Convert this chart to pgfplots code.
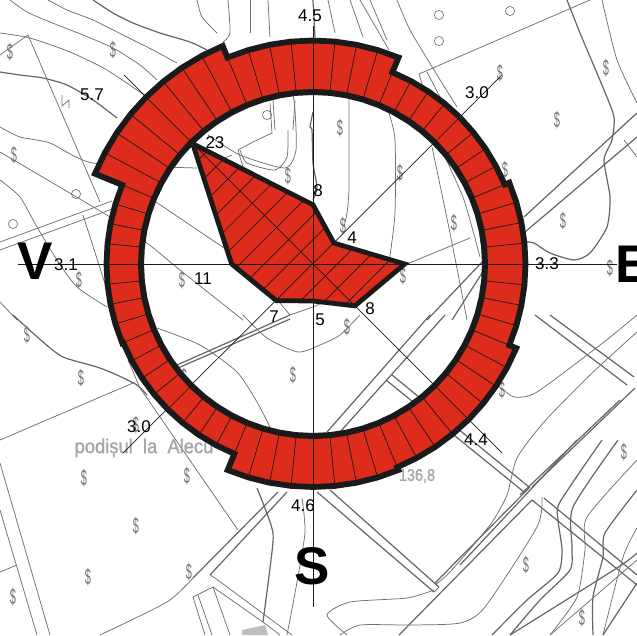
\documentclass[border=0pt]{standalone}
\usepackage{fontspec}
\setmainfont{Liberation Sans}
\newfontfamily\grayfont[FakeBold=1.2]{Liberation Sans}
\usepackage{pgfplots}
\usepackage{pgfplotstable}
\pgfplotsset{compat=1.18}
\definecolor{rosered}{HTML}{DD2C1C}
\definecolor{rosek}{HTML}{1A1A1A}
\definecolor{mapg}{HTML}{707070}
\pgfplotsset{base/.style={scale only axis,width=637pt,height=635pt,hide axis,clip=true,at={(0,0)},anchor=south west}}
\newcommand\ms[1]{\addplot[mapg,line width=0.75pt] coordinates {#1};}
\newcommand\ml[1]{\addplot[mapg,line width=0.75pt,smooth,tension=0.4] coordinates {#1};}
\newcommand\mk[1]{\addplot[mapg!90!black,line width=1.2pt,smooth,tension=0.4] coordinates {#1};}
\newcommand\spokes[2]{\pgfplotsinvokeforeach{#1}{\addplot[rosek,line width=0.7pt,data cs=polar] coordinates {(##1,172)(##1,#2)};}}
\newcommand\hatch[1]{\addplot[rosek,line width=0.7pt] coordinates {#1};}
\newcommand\lab[3]{\node[font=\fontsize{17}{17}\selectfont,text=black,inner sep=0pt] at (axis cs:#1,#2) {#3};}
\pgfplotstableread{
a r
-22.5 212.5
-16.875 212.5
-11.25 212.5
-5.625 212.5
0 212.5
5.625 212.5
11.25 212.5
16.875 212.5
22.5 212.5
22.5 207.5
28.125 207.5
33.75 207.5
39.375 207.5
45 207.5
50.625 207.5
56.25 207.5
61.875 207.5
67.5 207.5
67.5 223.5
73.125 223.5
78.75 223.5
84.375 223.5
90 223.5
95.625 223.5
101.25 223.5
106.875 223.5
112.5 223.5
112.5 236
118.125 236
123.75 236
129.375 236
135 236
140.625 236
146.25 236
151.875 236
157.5 236
157.5 206.5
163.125 206.5
168.75 206.5
174.375 206.5
180 206.5
185.625 206.5
191.25 206.5
196.875 206.5
202.5 206.5
202.5 205.5
208.125 205.5
213.75 205.5
219.375 205.5
225 205.5
230.625 205.5
236.25 205.5
241.875 205.5
247.5 205.5
247.5 223
253.125 223
258.75 223
264.375 223
270 223
275.625 223
281.25 223
286.875 223
292.5 223
292.5 220
298.125 220
303.75 220
309.375 220
315 220
320.625 220
326.25 220
331.875 220
337.5 220
337.5 212.5
343.125 212.5
348.75 212.5
}\outertab
\pgfplotstableread{
a r
348.75 172
343.125 172
337.5 172
331.875 172
326.25 172
320.625 172
315 172
309.375 172
303.75 172
298.125 172
292.5 172
286.875 172
281.25 172
275.625 172
270 172
264.375 172
258.75 172
253.125 172
247.5 172
241.875 172
236.25 172
230.625 172
225 172
219.375 172
213.75 172
208.125 172
202.5 172
196.875 172
191.25 172
185.625 172
180 172
174.375 172
168.75 172
163.125 172
157.5 172
151.875 172
146.25 172
140.625 172
135 172
129.375 172
123.75 172
118.125 172
112.5 172
106.875 172
101.25 172
95.625 172
90 172
84.375 172
78.75 172
73.125 172
67.5 172
61.875 172
56.25 172
50.625 172
45 172
39.375 172
33.75 172
28.125 172
22.5 172
16.875 172
11.25 172
5.625 172
0 172
-5.625 172
-11.25 172
}\innertab
\pgfplotstableread{
a r
-11.25 212.5
-5.625 212.5
0 212.5
5.625 212.5
11.25 212.5
16.875 212.5
22.5 212.5
22.5 207.5
28.125 207.5
33.75 207.5
39.375 207.5
45 207.5
50.625 207.5
56.25 207.5
61.875 207.5
67.5 207.5
67.5 223.5
73.125 223.5
78.75 223.5
84.375 223.5
90 223.5
95.625 223.5
101.25 223.5
106.875 223.5
112.5 223.5
112.5 236
118.125 236
123.75 236
129.375 236
135 236
140.625 236
146.25 236
151.875 236
157.5 236
157.5 206.5
163.125 206.5
168.75 206.5
174.375 206.5
180 206.5
185.625 206.5
191.25 206.5
196.875 206.5
202.5 206.5
202.5 205.5
208.125 205.5
213.75 205.5
219.375 205.5
225 205.5
230.625 205.5
236.25 205.5
241.875 205.5
247.5 205.5
247.5 223
253.125 223
258.75 223
264.375 223
270 223
275.625 223
281.25 223
286.875 223
292.5 223
292.5 220
298.125 220
303.75 220
309.375 220
315 220
320.625 220
326.25 220
331.875 220
337.5 220
337.5 212.5
343.125 212.5
348.75 212.5
348.75 172
343.125 172
337.5 172
331.875 172
326.25 172
320.625 172
315 172
309.375 172
303.75 172
298.125 172
292.5 172
286.875 172
281.25 172
275.625 172
270 172
264.375 172
258.75 172
253.125 172
247.5 172
241.875 172
236.25 172
230.625 172
225 172
219.375 172
213.75 172
208.125 172
202.5 172
196.875 172
191.25 172
185.625 172
180 172
174.375 172
168.75 172
163.125 172
157.5 172
151.875 172
146.25 172
140.625 172
135 172
129.375 172
123.75 172
118.125 172
112.5 172
106.875 172
101.25 172
95.625 172
90 172
84.375 172
78.75 172
73.125 172
67.5 172
61.875 172
56.25 172
50.625 172
45 172
39.375 172
33.75 172
28.125 172
22.5 172
16.875 172
11.25 172
5.625 172
0 172
-5.625 172
-11.25 172
}\ringtab
\pgfplotstableread{
a f
90 8
45 4
0 12.4
-45 8
-90 5
-135 7
-180 11
-225 23
90 8
45 4
}\freqtab
\begin{document}
\begin{tikzpicture}
\useasboundingbox (0,0) rectangle (637pt,635pt);
\begin{axis}[base,xmin=0,xmax=637,ymin=0,ymax=635,y dir=reverse]
\ms{(0,55)(28,35)(100,202)}
\ms{(83,215)(107,290)}
\ms{(0,242)(112,201)}
\ms{(0,250)(115,208)}
\mk{(93,0)(113,13)(133,23)(160,33)(190,42)(207,50)}
\ml{(48,0)(67,10)(93,20)(127,37)(153,50)(177,63)}
\ml{(10,0)(27,12)(50,22)(83,35)(113,48)(140,65)(157,80)}
\ml{(0,33)(30,38)(70,52)(107,70)(147,97)}
\mk{(0,72)(20,75)(43,78)(67,85)(93,100)(117,118)}
\ml{(0,127)(20,137)(50,143)(93,163)(197,168)}
\ml{(0,152)(110,217)(147,243)(180,270)(243,320)}
\ms{(153,200)(227,250)}
\ml{(0,180)(20,197)(37,227)(57,260)(77,287)(107,307)}
\ms{(0,302)(17,320)}
\ms{(62,95)(62,106)(69,100)(69,108)}
\ms{(270,103)(272,133)(253,142)(238,150)(243,167)}
\ms{(232,155)(200,168)}
\ml{(208,135)(240,155)(285,168)(296,150)(295,110)(293,95)}
\ml{(288,130)(287,157)(275,170)(247,163)(240,150)}
\mk{(313,112)(310,127)(312,130)(313,163)(317,187)(313,200)}
\ms{(250,0)(250,33)}
\ml{(228,0)(230,33)(223,42)}
\ms{(268,0)(270,37)}
\mk{(313,0)(315,37)}
\ms{(328,0)(335,33)}
\ms{(350,0)(363,37)}
\ms{(370,0)(387,40)}
\ml{(197,0)(202,17)(217,33)}
\ms{(295,100)(293,130)}
\ms{(273,100)(275,130)}
\ml{(397,0)(410,30)(434,70)(457,107)}
\ms{(360,0)(389,50)}
\ms{(419,74)(590,0)}
\ms{(419,74)(428,103)}
\ms{(427,72)(440,97)}
\mk{(567,0)(580,33)(604,90)(614,117)(612,140)(604,160)(610,197)(607,227)(590,253)(574,260)(550,253)(534,243)(527,242)}
\ml{(602,0)(617,60)(637,103)}
\mk{(524,217)(637,113)}
\mk{(525,232)(637,137)}
\ms{(624,140)(637,157)}
\ml{(432,147)(450,233)(467,320)}
\ml{(445,157)(464,200)(480,257)}
\ml{(349,90)(349,187)(347,213)(344,227)}
\ml{(389,113)(395,140)(395,213)(389,263)}
\ms{(290,315)(313,307)(407,264)(470,238)}
\ms{(280,303)(290,315)}
\mk{(427,320)(484,260)}
\mk{(452,320)(484,270)}
\mk{(327,432)(430,315)}
\mk{(340,432)(445,315)}
\mk{(392,375)(529,487)}
\mk{(386,380)(524,492)}
\mk{(535,315)(627,385)}
\mk{(550,315)(634,377)}
\mk{(532,487)(635,388)}
\mk{(520,495)(620,400)}
\mk{(399,635)(532,500)}
\mk{(532,500)(637,585)}
\mk{(544,498)(637,575)}
\mk{(317,492)(434,592)}
\mk{(330,490)(439,587)}
\ms{(434,592)(439,587)}
\mk{(435,583)(530,487)}
\ml{(637,315)(604,342)(537,392)(514,397)(502,388)}
\ml{(637,332)(590,375)(544,422)(517,458)(507,495)(490,525)(450,572)(435,585)}
\ml{(542,497)(537,527)(485,607)(460,623)(410,625)(360,625)(340,635)}
\ml{(347,635)(327,615)(350,602)(407,598)(434,590)}
\mk{(602,440)(560,502)(558,520)(562,550)(558,573)(527,600)(492,635)}
\mk{(618,440)(573,507)(572,547)(570,570)(540,600)(510,635)}
\ml{(637,460)(587,517)(585,550)(577,597)(550,635)}
\mk{(637,490)(605,533)(603,557)(593,597)(593,635)}
\ml{(637,528)(623,557)(603,635)}
\mk{(510,635)(617,568)(637,553)}
\ms{(550,635)(637,560)}
\mk{(603,635)(637,583)}
\mk{(460,565)(577,440)}
\mk{(13,315)(43,342)(63,357)(97,367)(117,375)(137,385)(147,395)}
\ms{(0,440)(133,383)}
\mk{(177,365)(290,315)}
\mk{(178,368)(290,319)}
\ms{(128,360)(140,388)(238,530)}
\mk{(287,492)(210,575)}
\mk{(278,492)(193,578)}
\ml{(193,578)(167,602)(100,635)}
\ms{(210,575)(215,578)(292,635)}
\ms{(213,587)(267,625)(280,635)}
\ms{(213,587)(230,635)}
\ms{(213,587)(193,597)}
\ms{(193,597)(205,635)}
\ms{(198,595)(212,635)}
\ms{(0,463)(50,635)}
\ms{(0,510)(37,635)}
\ms{(0,572)(17,565)}
\mk{(257,488)(270,522)(273,542)(263,622)}
\ml{(302,498)(305,532)(297,582)(287,635)}
\ml{(157,328)(200,345)(237,372)(257,402)(270,427)}
\ml{(243,315)(267,338)(298,352)(320,345)(340,335)(360,315)}
\addplot[draw=none,fill=black!25] coordinates {(242,630)(265,625)(268,635)(242,635)};
\addplot[only marks,mark=o,mark size=4.6pt,mark options={mapg,line width=0.65pt}] coordinates {
(267,115)(13,224)(76,194)(439,15)(439,41)(510,11)};
\addplot[only marks,mark=none,nodes near coords={\$},
  nodes near coords style={anchor=center,inner sep=0pt,font=\fontsize{22}{22}\selectfont,text=black!55,xscale=0.5}] coordinates {
(10,52)(113,50)(14,155)(79,280)(182,280)(288,176)(500,73)(606,68)(557,120)(340,128)(505,170)(400,173)
(343,226)(454,223)(563,221)(610,268)(403,276)(27,335)(81,378)(293,375)(184,377)(136,425)(84,478)
(187,476)(136,526)(88,577)(189,572)(13,597)(347,327)(526,565)(624,452)(582,618)(502,390)};
\node[text=black!35,font=\fontsize{20}{20}\grayfont\selectfont,anchor=center,xscale=0.92,inner sep=0pt] at (axis cs:144,448) {podișul\hspace{11pt}la\hspace{11pt}Alecu};
\node[text=black!35,font=\fontsize{17}{17}\grayfont\selectfont,anchor=center,xscale=0.85,inner sep=0pt] at (axis cs:417,476) {136,8};
\end{axis}
\begin{axis}[base,xmin=-313,xmax=324,ymin=-371,ymax=264]
\addplot[draw=none,fill=rosered,data cs=polar] table[x=a,y expr=\thisrow{f}*7.4] {\freqtab};
\hatch{(12.05,36.35)(-48.97,-24.67)}
\hatch{(3.1,51.7)(-62.5,-13.9)}
\hatch{(-10.5,62.4)(-76,-3.1)}
\hatch{(-26.5,70.7)(-84.3,12.9)}
\hatch{(-42.5,79)(-90.4,31.1)}
\hatch{(-58.5,87.3)(-96.6,49.2)}
\hatch{(-74.6,95.5)(-102.7,67.4)}
\hatch{(-90.6,103.8)(-108.8,85.6)}
\hatch{(-106.6,112.1)(-114.9,103.8)}
\hatch{(39.6,15.3)(-10.9,-35.2)}
\hatch{(58.3,9.7)(11.7,-36.9)}
\hatch{(76.9,4)(34.4,-38.5)}
\addplot[rosek,line width=0.7pt] coordinates {(0,238)(0,-343)};
\addplot[rosek,line width=0.7pt] coordinates {(-295,0)(304,0)};
\addplot[rosek,line width=0.7pt] coordinates {(-189,189)(189,-189)};
\addplot[rosek,line width=0.7pt] coordinates {(189,189)(-190,-189)};
\addplot[rosek,line width=4.8pt,line join=miter,data cs=polar] table[x=a,y expr=\thisrow{f}*7.4] {\freqtab};
\addplot[draw=none,fill=rosered,data cs=polar] table[x=a,y=r] {\ringtab};
\spokes{-16.875,-11.25,-5.625,0,5.625,11.25,16.875}{212.5}
\spokes{22.5,28.125,33.75,39.375,45,50.625,56.25,61.875,67.5}{207.5}
\spokes{73.125,78.75,84.375,90,95.625,101.25,106.875,112.5}{223.5}
\spokes{118.125,123.75,129.375,135,140.625,146.25,151.875}{236}
\spokes{157.5,163.125,168.75,174.375,180,185.625,191.25,196.875,202.5}{205.5}
\spokes{208.125,213.75,219.375,225,230.625,236.25,241.875,247.5}{205.5}
\spokes{253.125,258.75,264.375,270,275.625,281.25,286.875}{223}
\spokes{292.5,298.125,303.75,309.375,315,320.625,326.25,331.875}{220}
\spokes{337.5}{212.5}
\addplot[rosek,line width=5.8pt,line join=miter,data cs=polar] table[x=a,y=r] {\outertab};
\addplot[rosek,line width=6pt,line join=round,data cs=polar] table[x=a,y=r] {\innertab};
\end{axis}
\begin{axis}[base,xmin=0,xmax=637,ymin=0,ymax=635,y dir=reverse]
\addplot[draw=none] coordinates {(0,0)(637,635)};
\lab{310}{16}{4.5}
\lab{477}{93}{3.0}
\lab{547}{264}{3.3}
\lab{476}{440}{4.4}
\lab{303}{506}{4.6}
\lab{139}{427}{3.0}
\lab{66}{265}{3.1}
\lab{92}{95}{5.7}
\lab{318}{191}{8}
\lab{352}{238}{4}
\lab{370}{309}{8}
\lab{320}{320}{5}
\lab{274}{317}{7}
\lab{203}{279}{11}
\lab{215}{143}{23}
\node[font=\fontsize{53}{53}\selectfont\bfseries,inner sep=0pt] at (axis cs:35,261) {V};
\node[font=\fontsize{53}{53}\selectfont\bfseries,inner sep=0pt,anchor=west] at (axis cs:615,264) {E};
\node[font=\fontsize{53}{53}\selectfont\bfseries,inner sep=0pt] at (axis cs:312,566) {S};
\end{axis}
\end{tikzpicture}
\end{document}
